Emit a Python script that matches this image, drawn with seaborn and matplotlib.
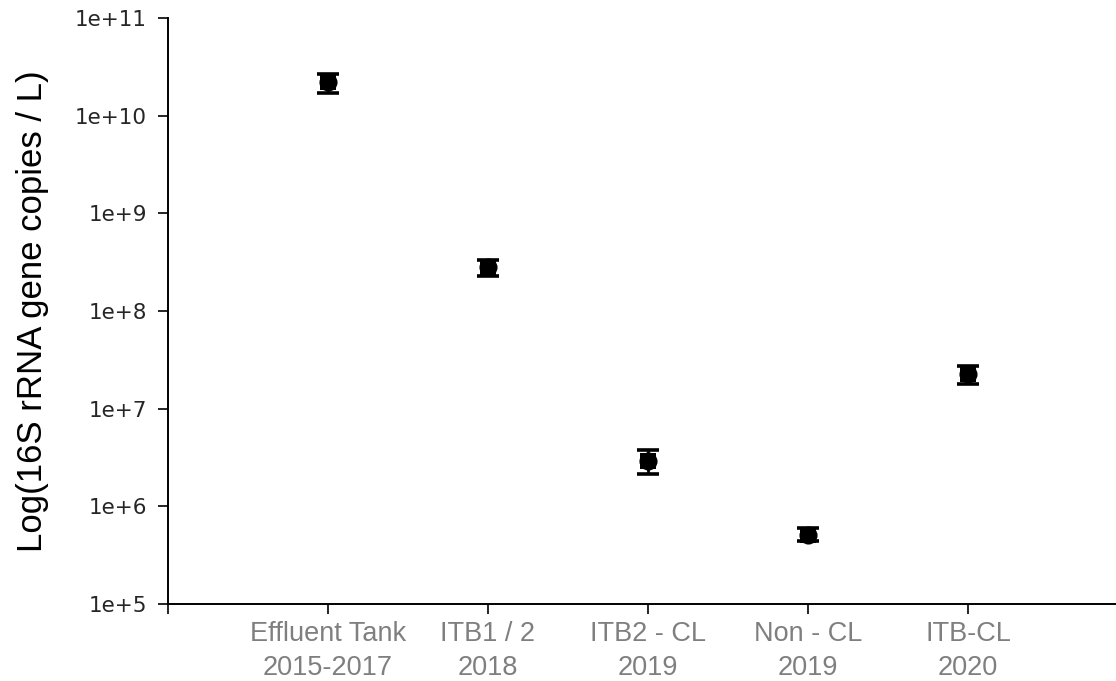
import matplotlib
matplotlib.use("Agg")
import matplotlib.pyplot as plt
import matplotlib.ticker as mticker
import numpy as np
import pandas as pd
import seaborn as sns

# Sampling campaigns and their mean 16S rRNA gene copy concentrations
sites = ["Effluent Tank\n2015-2017", "ITB1 / 2\n2018", "ITB2 - CL\n2019",
         "Non - CL\n2019", "ITB-CL\n2020"]
copies_mean = [2.2e10, 2.8e8, 2.9e6, 5.1e5, 2.25e7]
copies_low = [1.7e10, 2.3e8, 2.15e6, 4.4e5, 1.8e7]
copies_high = [2.7e10, 3.3e8, 3.8e6, 6.0e5, 2.75e7]
y_ticks = [1e5, 1e6, 1e7, 1e8, 1e9, 1e10, 1e11]
y_tick_labels = ["1e+5", "1e+6", "1e+7", "1e+8", "1e+9", "1e+10", "1e+11"]

sns.set_theme(style="white")
plt.rcParams["font.family"] = ["Liberation Sans", "DejaVu Sans"]

df = pd.DataFrame({"pos": np.arange(len(sites)), "site": sites,
                   "copies": copies_mean})

fig = plt.figure(figsize=(11.16, 6.81), dpi=100)
ax = fig.add_axes([0.1505, 0.1131, 0.8495, 0.8605])

yerr = np.array([np.array(copies_mean) - np.array(copies_low),
                 np.array(copies_high) - np.array(copies_mean)])
ax.errorbar(df["pos"], df["copies"], yerr=yerr, fmt="none", ecolor="black",
            elinewidth=2.0, capsize=8, capthick=2.6, zorder=2)
sns.scatterplot(data=df, x="pos", y="copies", marker="s", s=125,
                color="black", edgecolor="black", linewidth=0, ax=ax, zorder=3)
sns.scatterplot(data=df, x="pos", y="copies", marker="o", s=170,
                color="black", edgecolor="black", linewidth=0, ax=ax, zorder=3)

ax.set_yscale("log")
ax.set_ylim(1e5, 1e11)
ax.set_xlim(-1, 4.925)
ax.yaxis.set_major_locator(mticker.FixedLocator(y_ticks))
ax.yaxis.set_minor_locator(mticker.NullLocator())
ax.set_yticks(y_ticks)
ax.set_yticklabels(y_tick_labels, fontsize=15.5, family="DejaVu Sans")

ax.set_xticks([-1, 0, 1, 2, 3, 4])
ax.set_xticklabels([""] + sites, fontsize=19.5, color="#7f7f7f",
                   linespacing=1.4)

ax.tick_params(axis="both", which="major", direction="out", length=7,
               width=1.2, color="black", bottom=True, left=True)
ax.tick_params(axis="x", pad=5)
ax.tick_params(axis="y", pad=8)

for side in ["left", "bottom"]:
    ax.spines[side].set_visible(True)
    ax.spines[side].set_color("black")
    ax.spines[side].set_linewidth(1.4)
ax.spines["right"].set_visible(False)
ax.spines["top"].set_visible(False)

ax.set_xlabel("")
ax.set_ylabel("Log(16S rRNA gene copies / L)", fontsize=25, color="black",
              labelpad=19)
ax.grid(False)

fig.savefig("out.png", dpi=100)
